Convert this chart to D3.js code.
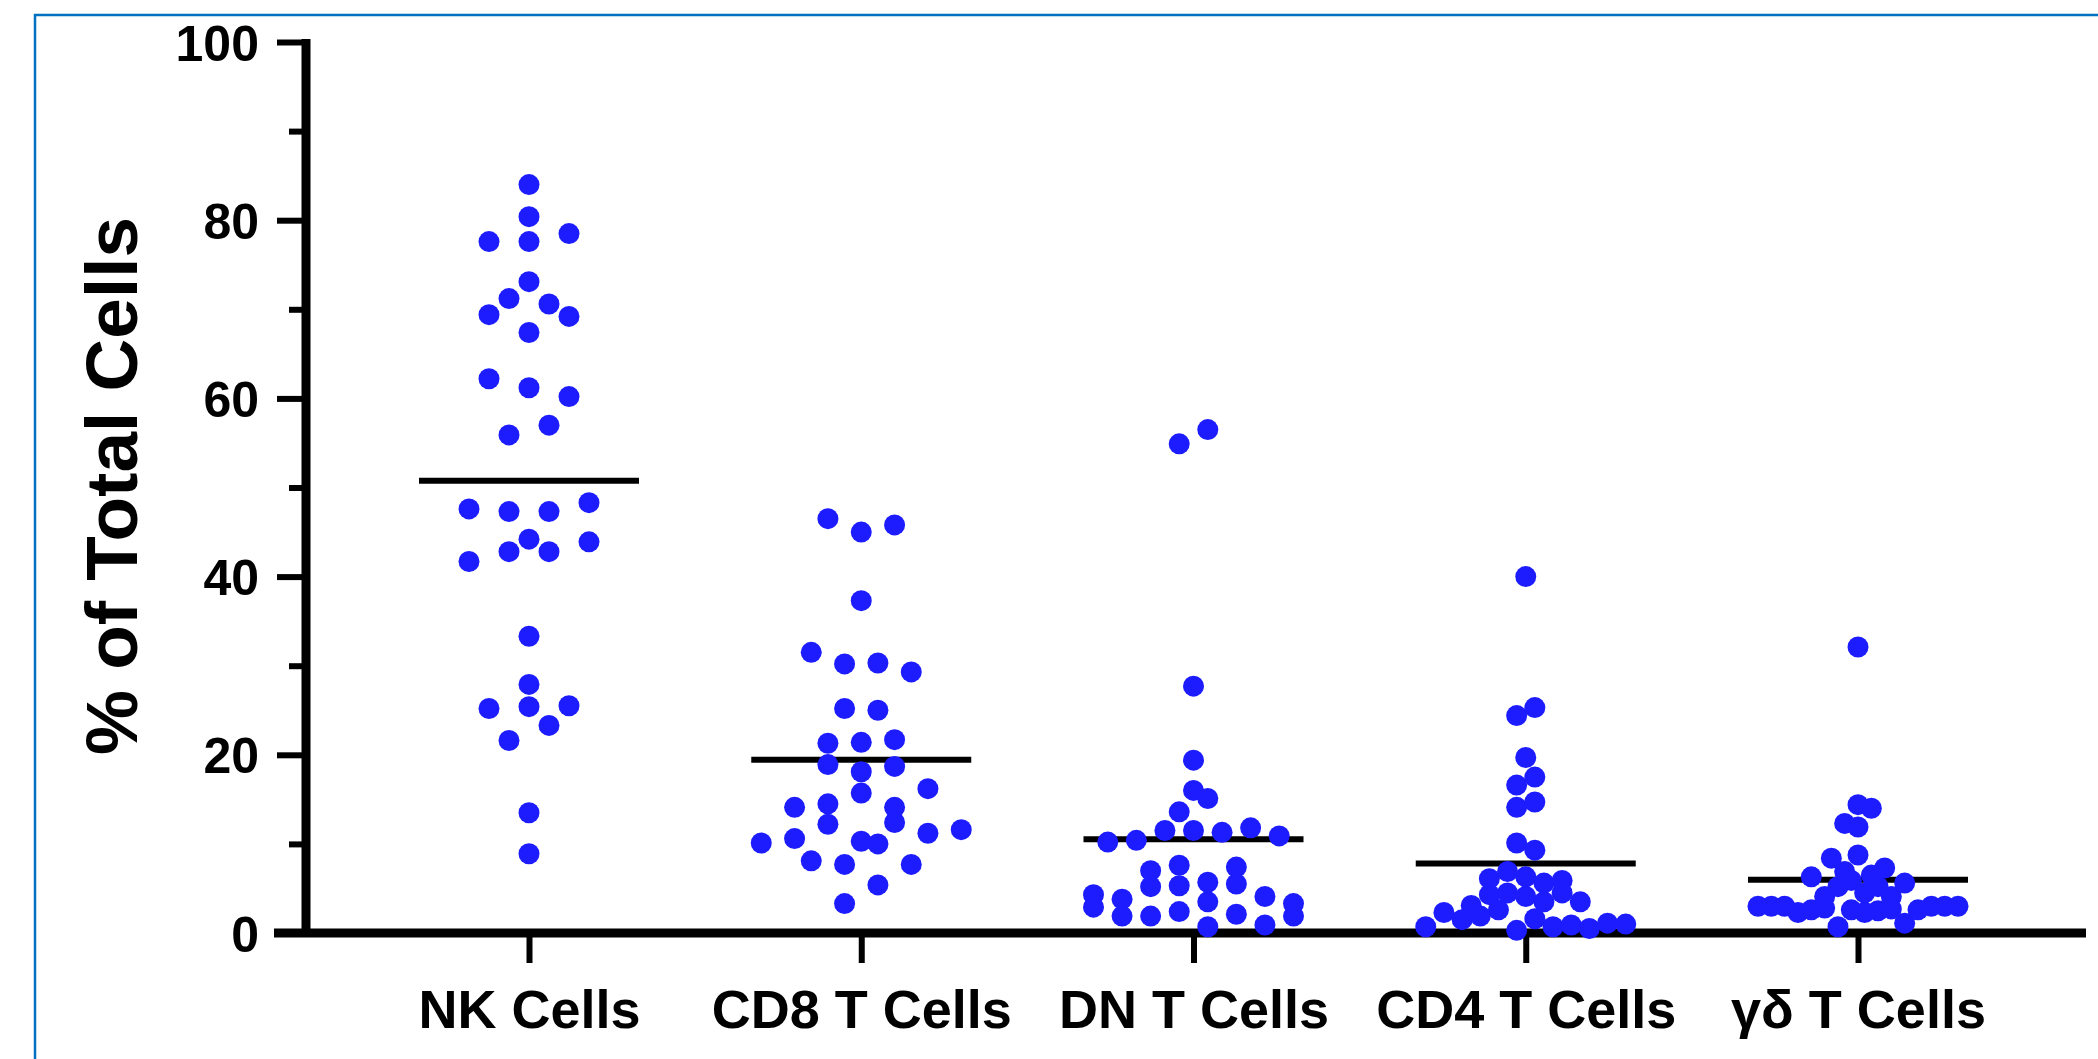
<!DOCTYPE html>
<html>
<head>
<meta charset="utf-8">
<script src="https://cdn.jsdelivr.net/npm/d3@7"></script>
<style>
  html, body { margin: 0; padding: 0; background: #fff; }
  svg { display: block; }
  text { font-family: "Liberation Sans", Arial, Helvetica, sans-serif; font-weight: bold; fill: #000; }
</style>
</head>
<body>
<script>
//scatter dot plot of immune cell subsets, mean shown as a horizontal bar
(function(){

//pseudo-global data, values listed left to right
var categories = ["NK Cells", "CD8 T Cells", "DN T Cells", "CD4 T Cells", "\u03b3\u03b4 T Cells"];

var nkValues = [80.4, 77.6, 71.2, 62.2, 47.6, 44.2, 41.7, 25.2,
	69.4, 61.2, 55.9, 47.3, 42.8, 25.4, 21.6,
	84.0, 33.3, 27.9, 13.5, 8.9,
	77.6, 73.1, 70.6, 67.4, 60.2, 57.0, 47.3, 42.8, 23.3,
	78.5, 69.2, 48.3, 43.9, 25.5];

var cd8Values = [14.1, 10.1, 10.6, 31.5, 12.2, 8.1, 46.5,
	30.2, 25.2, 21.3, 18.9, 14.5, 10.3, 7.7, 3.3,
	45.0, 37.3,
	30.3, 25.0, 21.4, 18.1, 15.7, 12.4, 10.0, 7.7, 5.4,
	45.8, 29.3, 21.7, 18.7, 14.1, 11.2, 16.2, 11.6];

var dnValues = [2.9, 10.2, 4.3, 1.9, 13.6, 10.4, 7.0, 3.8,
	11.5, 7.6, 5.2, 1.9, 54.9, 15.1, 5.3, 2.4, 27.7, 19.4,
	56.5, 16.0, 11.5, 5.7, 3.5, 0.7, 11.3, 5.5, 2.1,
	11.8, 7.4, 4.1, 0.9, 10.9, 1.9, 3.3];

var cd4Values = [3.1, 0.7, 6.1, 2.3, 6.9, 4.3, 1.5, 4.5, 1.9,
	16.6, 14.1, 6.3, 2.6, 0.3, 10.1,
	40.0, 24.4, 17.5, 14.7, 5.6, 1.6, 9.3,
	25.3, 19.7, 4.1, 0.7, 0.9, 5.9, 3.5, 0.5, 4.5, 1.1, 3.5, 1.0];

var gdValues = [3.0, 3.0, 3.0, 2.3, 6.3, 4.1, 5.2, 8.4, 2.6, 5.9, 2.8,
	12.3, 6.9, 4.5, 0.7, 32.1, 14.4, 11.9, 5.2, 2.6,
	14.0, 8.75, 6.5, 2.3, 2.5, 7.3, 4.1, 2.7, 1.1,
	5.6, 2.6, 3.0, 3.0, 3.0];

var groupValues = [nkValues, cd8Values, dnValues, cd4Values, gdValues];

var yTicks = [0, 20, 40, 60, 80, 100];
var yMinorTicks = [10, 30, 50, 70, 90];
var yTitle = "% of Total Cells";

//frame dimensions
var width = 2098,
	height = 1059,
	dotRadius = 10.5,
	maxSpacing = 40,
	maxSpread = 200,
	meanHalfWidth = 110,
	axisColor = "#000",
	dotColor = "#1c1cff";

var svg = d3.select("body")
	.append("svg")
	.attr("width", width)
	.attr("height", height);

//blue border of the original figure, open on the right and bottom
svg.append("rect")
	.attr("x", 35)
	.attr("y", 15)
	.attr("width", width)
	.attr("height", height)
	.attr("fill", "none")
	.attr("stroke", "#0070c0")
	.attr("stroke-width", 2.5);

//scales
var yScale = d3.scaleLinear()
	.domain([0, 100])
	.range([933, 42]);

var xScale = d3.scalePoint()
	.domain(categories)
	.range([529, 1858]);

var axisX = 306;

//y axis with major and minor ticks
var yAxis = d3.axisLeft(yScale)
	.tickValues(yTicks)
	.tickSize(29)
	.tickPadding(18)
	.tickFormat(d3.format("d"));

var yAxisG = svg.append("g")
	.attr("class", "axis")
	.attr("transform", "translate(" + axisX + ",0)")
	.call(yAxis);

yAxisG.select(".domain").remove();
yAxisG.selectAll(".tick line")
	.attr("stroke", axisColor)
	.attr("stroke-width", 6);
yAxisG.selectAll(".tick text")
	.attr("font-size", 50)
	.attr("dy", "0.36em");

var yMinor = d3.axisLeft(yScale)
	.tickValues(yMinorTicks)
	.tickSize(17)
	.tickFormat("");

var yMinorG = svg.append("g")
	.attr("transform", "translate(" + axisX + ",0)")
	.call(yMinor);
yMinorG.select(".domain").remove();
yMinorG.selectAll(".tick line")
	.attr("stroke", axisColor)
	.attr("stroke-width", 6);

//vertical axis spine
svg.append("line")
	.attr("x1", axisX)
	.attr("x2", axisX)
	.attr("y1", yScale(100) - 3)
	.attr("y2", yScale(0))
	.attr("stroke", axisColor)
	.attr("stroke-width", 9);

//x axis
var xAxis = d3.axisBottom(xScale)
	.tickSize(30)
	.tickPadding(26);

var xAxisG = svg.append("g")
	.attr("transform", "translate(0," + yScale(0) + ")")
	.call(xAxis);
xAxisG.select(".domain").remove();
xAxisG.selectAll(".tick line")
	.attr("stroke", axisColor)
	.attr("stroke-width", 6);
xAxisG.selectAll(".tick text")
	.attr("font-size", 54)
	.attr("dy", "0.72em");

//horizontal axis spine, starting at the end of the 0 tick
svg.append("line")
	.attr("x1", axisX - 32)
	.attr("x2", 2086)
	.attr("y1", yScale(0))
	.attr("y2", yScale(0))
	.attr("stroke", axisColor)
	.attr("stroke-width", 9);

//axis title
svg.append("text")
	.attr("transform", "translate(137," + 486 + ") rotate(-90)")
	.attr("text-anchor", "middle")
	.attr("font-size", 73)
	.text(yTitle);

//arrange the dots of one column in rows so they do not pile up
function swarm(values){
	var pxPerUnit = yScale(0) - yScale(1);
	var rowHeight = dotRadius * 2 / pxPerUnit;
	var items = values.map(function(v, i){ return {value: v, order: i, offset: 0}; });
	var sorted = items.slice().sort(function(a, b){
		return a.value - b.value || a.order - b.order;
	});

	var rows = [], current = null;
	sorted.forEach(function(d){
		if (!current || d.value - current.start >= rowHeight){
			current = {start: d.value, items: []};
			rows.push(current);
		};
		current.items.push(d);
	});

	var maxRow = d3.max(rows, function(r){ return r.items.length; });
	var spacing = maxRow > 1 ? Math.min(maxSpacing, maxSpread / (maxRow - 1)) : 0;

	rows.forEach(function(r){
		r.items.sort(function(a, b){ return a.order - b.order; });
		var n = r.items.length;
		r.items.forEach(function(d, k){
			d.offset = (k - (n - 1) / 2) * spacing;
		});
	});
	return items;
};

var groups = svg.selectAll(".group")
	.data(categories)
	.enter()
	.append("g")
	.attr("class", "group");

//mean bars
groups.append("line")
	.attr("x1", function(d){ return xScale(d) - meanHalfWidth; })
	.attr("x2", function(d){ return xScale(d) + meanHalfWidth; })
	.attr("y1", function(d, i){ return yScale(d3.mean(groupValues[i])); })
	.attr("y2", function(d, i){ return yScale(d3.mean(groupValues[i])); })
	.attr("stroke", axisColor)
	.attr("stroke-width", 6);

//dots
groups.each(function(cat, i){
	d3.select(this).selectAll("circle")
		.data(swarm(groupValues[i]))
		.enter()
		.append("circle")
		.attr("cx", function(d){ return xScale(cat) + d.offset; })
		.attr("cy", function(d){ return yScale(d.value); })
		.attr("r", dotRadius)
		.attr("fill", dotColor);
});

})();
</script>
</body>
</html>
